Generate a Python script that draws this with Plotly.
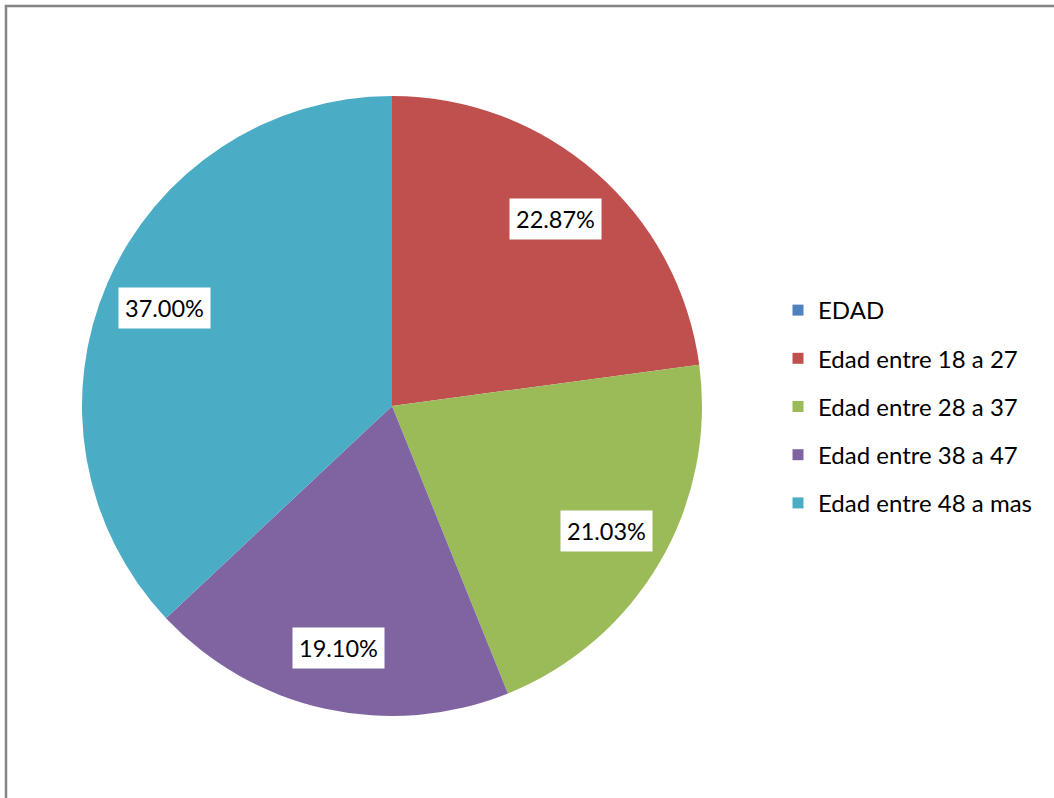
import math
import plotly.graph_objects as go

categories = ["EDAD", "Edad entre 18 a 27", "Edad entre 28 a 37", "Edad entre 38 a 47", "Edad entre 48 a mas"]
values = [0, 22.87, 21.03, 19.10, 37.00]
colors = ["#4F81BD", "#C0504D", "#9BBB59", "#8064A2", "#4BACC6"]

W, H = 1054, 798
FONT = "Lato"

# pie geometry (pixels)
cx, cy, R = 392, 406, 310

fig = go.Figure()
fig.add_trace(go.Pie(
    labels=categories, values=values, sort=False, direction="clockwise", rotation=0,
    marker=dict(colors=colors, line=dict(width=0)),
    textinfo="none", hoverinfo="label+percent", showlegend=False,
    domain=dict(x=[(cx - R) / W, (cx + R) / W], y=[1 - (cy + R) / H, 1 - (cy - R) / H]),
))

# legend entries via dummy traces
for i, (c, col) in enumerate(zip(categories, colors)):
    fig.add_trace(go.Scatter(x=[None], y=[None], mode="markers", name=c,
                             legendgroup=str(i),
                             marker=dict(symbol="square", size=11, color=col)))

# data labels
total = sum(values)
cum = 0
for c, v in zip(categories, values):
    if v > 0:
        mid = (cum + v / 2) / total * 2 * math.pi
        r = 0.8 * R
        px = cx + r * math.sin(mid)
        py = cy - r * math.cos(mid)
        fig.add_annotation(x=px / W, y=1 - py / H, xref="paper", yref="paper",
                           xanchor="center", yanchor="middle",
                           text=f"{v / total * 100:.2f}%", showarrow=False,
                           font=dict(family=FONT, size=23.5, color="black"),
                           bgcolor="white", borderpad=6)
    cum += v

fig.add_shape(type="rect", xref="paper", yref="paper",
              x0=6 / W, x1=1.05, y0=-0.05, y1=1 - 6 / H,
              line=dict(color="#858585", width=2.5))

fig.update_layout(
    width=W, height=H, margin=dict(l=0, r=0, t=0, b=0),
    paper_bgcolor="white", plot_bgcolor="white",
    xaxis=dict(visible=False), yaxis=dict(visible=False),
    font=dict(family=FONT, size=24, color="black"),
    legend=dict(x=778 / W, y=1 - 288 / H, xanchor="left", yanchor="top",
                traceorder="grouped", tracegroupgap=14,
                font=dict(family=FONT, size=24, color="black"),
                bgcolor="rgba(0,0,0,0)"),
)
fig.write_html("out.html", config={"displayModeBar": False},
               post_script="document.body.style.margin='0px';")
